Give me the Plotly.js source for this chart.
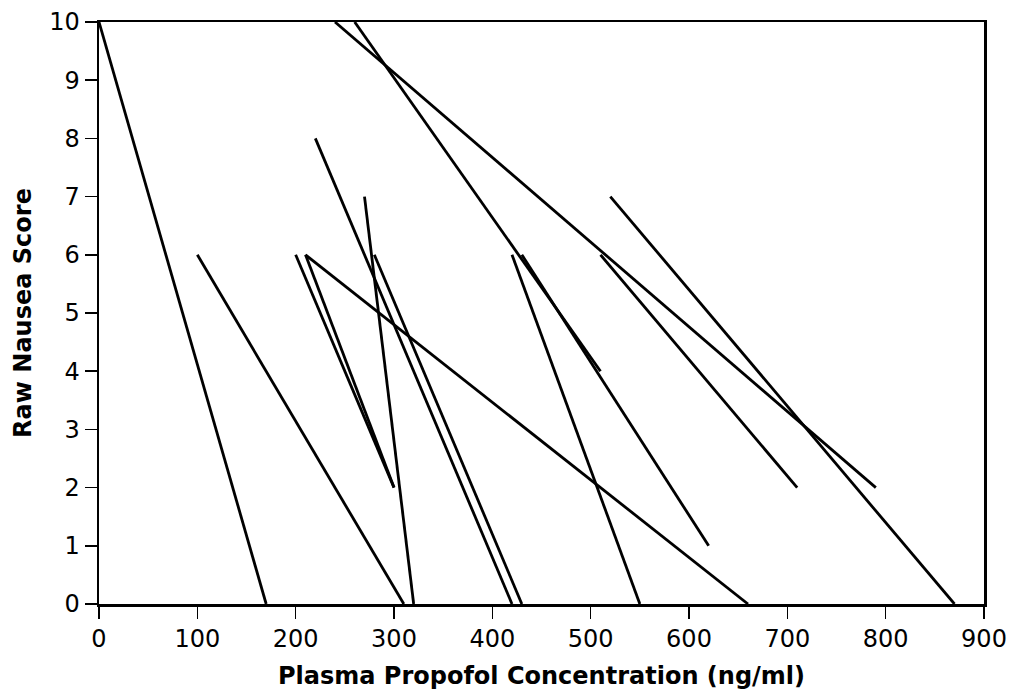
<!DOCTYPE html>
<html>
<head>
<meta charset="utf-8">
<script src="https://cdn.plot.ly/plotly-3.0.1.min.js"></script>
<style>
  html, body { margin: 0; padding: 0; background: #fff; }
  #chart { width: 1013px; height: 695px; }
</style>
</head>
<body>
<div id="chart"></div>
<script>
// Individual regression lines: start (x0, y0) -> end (x1, y1)
const startConc  = [0, 100, 220, 270, 200, 210, 210, 280, 240, 260, 420, 430, 510, 520];
const startScore = [10, 6, 8, 7, 6, 6, 6, 6, 10, 10, 6, 6, 6, 7];
const endConc    = [170, 310, 420, 320, 300, 300, 660, 430, 790, 510, 550, 620, 710, 870];
const endScore   = [0, 0, 0, 0, 2, 2, 0, 0, 2, 4, 0, 1, 2, 0];

const xTicks = [0, 100, 200, 300, 400, 500, 600, 700, 800, 900];
const yTicks = [0, 1, 2, 3, 4, 5, 6, 7, 8, 9, 10];

const traces = startConc.map((x, i) => ({
  type: 'scatter',
  mode: 'lines',
  x: [x, endConc[i]],
  y: [startScore[i], endScore[i]],
  line: { color: '#000', width: 2.8 },
  showlegend: false,
  hoverinfo: 'skip'
}));

const font = { family: 'DejaVu Sans, Arial, sans-serif', color: '#000' };

const layout = {
  width: 1013,
  height: 695,
  paper_bgcolor: '#fff',
  plot_bgcolor: '#fff',
  margin: { l: 99, r: 29, t: 22, b: 91 },
  showlegend: false,
  xaxis: {
    range: [0, 900],
    tickvals: xTicks,
    ticktext: xTicks.map(String),
    showgrid: false,
    zeroline: false,
    showline: true,
    mirror: true,
    linecolor: '#000',
    linewidth: 2.5,
    ticks: 'outside',
    ticklen: 12,
    tickwidth: 1.5,
    tickcolor: '#000',
    tickfont: Object.assign({ size: 24 }, font),
    title: {
      text: '<b>Plasma Propofol Concentration (ng/ml)</b>',
      font: Object.assign({ size: 24 }, font),
      standoff: 15
    },
    automargin: false,
    fixedrange: true
  },
  yaxis: {
    range: [0, 10],
    tickvals: yTicks,
    ticktext: yTicks.map(String),
    showgrid: false,
    zeroline: false,
    showline: true,
    mirror: true,
    linecolor: '#000',
    linewidth: 2.5,
    ticks: 'outside',
    ticklen: 12,
    tickwidth: 1.5,
    tickcolor: '#000',
    tickfont: Object.assign({ size: 24 }, font),
    title: {
      text: '<b>Raw Nausea Score</b>',
      font: Object.assign({ size: 24 }, font),
      standoff: 11
    },
    automargin: false,
    fixedrange: true
  }
};

Plotly.newPlot('chart', traces, layout, { displayModeBar: false, staticPlot: true });
</script>
</body>
</html>
